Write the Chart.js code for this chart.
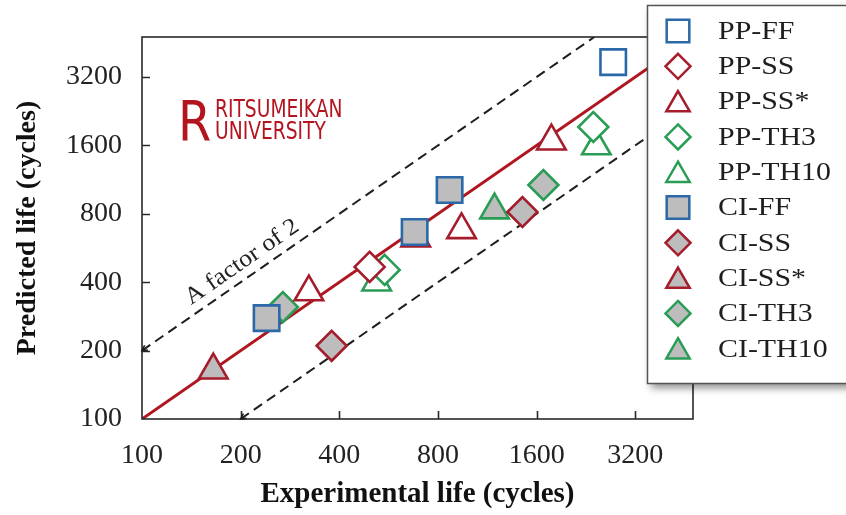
<!DOCTYPE html>
<html><head><meta charset="utf-8">
<script src="https://cdn.jsdelivr.net/npm/chart.js@4.4.0/dist/chart.umd.min.js"></script>
<style>html,body{margin:0;padding:0;background:#fff;overflow:hidden}#wrap{width:846px;height:515px;position:relative}</style>
</head><body><div id="wrap"><canvas id="c" width="846" height="515"></canvas></div>
<script>
// Axis ticks (both axes are log2-spaced)
const tickValues = [100, 200, 400, 800, 1600, 3200];
const axisMin = 100, axisMax = 4800;

// Experimental life (x) and predicted life (y) in cycles, per specimen group
const ppFF_exp = [2740],              ppFF_pred = [3720];
const ppSS_exp = [495],               ppSS_pred = [467];
const ppSSs_exp = [323, 944, 1775],   ppSSs_pred = [362, 680, 1670];
const ppTH3_exp = [550, 2383],        ppTH3_pred = [453, 1928];
const ppTH10_exp = [520, 2434],       ppTH10_pred = [400, 1590];
const ciFF_exp = [240, 679, 868],     ciFF_pred = [278, 665, 1018];
const ciSS_exp = [379, 1448],         ciSS_pred = [210, 815];
const ciSSs_exp = [165, 684],         ciSSs_pred = [164, 625];
const ciTH3_exp = [269, 1678],        ciTH3_pred = [311, 1071];
const ciTH10_exp = [1190],            ciTH10_pred = [830];

const BLUE = '#2b68a8', RED = '#a51d2d', GREEN = '#2a9d55', GRAY = '#bdbdbd';

function pts(xs, ys) { return xs.map((x, i) => ({ x: x, y: ys[i] })); }

const groups = [
  { label: 'PP-FF',   x: ppFF_exp,   y: ppFF_pred,   style: 'rect',     color: BLUE,  fill: '#ffffff' },
  { label: 'PP-SS',   x: ppSS_exp,   y: ppSS_pred,   style: 'rectRot',  color: RED,   fill: '#ffffff' },
  { label: 'PP-SS*',  x: ppSSs_exp,  y: ppSSs_pred,  style: 'triangle', color: RED,   fill: '#ffffff' },
  { label: 'PP-TH3',  x: ppTH3_exp,  y: ppTH3_pred,  style: 'rectRot',  color: GREEN, fill: '#ffffff' },
  { label: 'PP-TH10', x: ppTH10_exp, y: ppTH10_pred, style: 'triangle', color: GREEN, fill: '#ffffff' },
  { label: 'CI-FF',   x: ciFF_exp,   y: ciFF_pred,   style: 'rect',     color: BLUE,  fill: GRAY },
  { label: 'CI-SS',   x: ciSS_exp,   y: ciSS_pred,   style: 'rectRot',  color: RED,   fill: GRAY },
  { label: 'CI-SS*',  x: ciSSs_exp,  y: ciSSs_pred,  style: 'triangle', color: RED,   fill: GRAY },
  { label: 'CI-TH3',  x: ciTH3_exp,  y: ciTH3_pred,  style: 'rectRot',  color: GREEN, fill: GRAY },
  { label: 'CI-TH10', x: ciTH10_exp, y: ciTH10_pred, style: 'triangle', color: GREEN, fill: GRAY }
];
const radiusFor = { rect: 18, rectRot: 15, triangle: 16.5 };

const markerSets = groups.map(g => ({
  type: 'scatter',
  label: g.label,
  data: pts(g.x, g.y),
  pointStyle: g.style,
  pointRadius: radiusFor[g.style],
  pointHoverRadius: radiusFor[g.style],
  pointBorderWidth: 2.6,
  pointBorderColor: g.color,
  pointBackgroundColor: g.fill,
  borderColor: g.color,
  backgroundColor: g.fill,
  order: 1
}));

// 1:1 line and factor-of-2 bounds
const lineSets = [
  { type: 'line', label: 'equal', data: [{x: 100, y: 100}, {x: 4800, y: 4800}],
    borderColor: '#b0161f', borderWidth: 3, pointRadius: 0, order: 5 },
  { type: 'line', label: 'upper', data: [{x: 100, y: 200}, {x: 2400, y: 4800}],
    borderColor: '#1e1e1e', borderWidth: 2, borderDash: [10, 6], pointRadius: 0, order: 6 },
  { type: 'line', label: 'lower', data: [{x: 200, y: 100}, {x: 4800, y: 2400}],
    borderColor: '#1e1e1e', borderWidth: 2, borderDash: [10, 6], pointRadius: 0, order: 6 }
];

const SERIF = "'Liberation Serif', 'Times New Roman', serif";
const NARROW = "'Liberation Sans Narrow', 'DejaVu Sans Condensed', sans-serif";

function drawMarker(ctx, style, x, y, r, stroke, fill, lw) {
  ctx.save();
  ctx.beginPath();
  if (style === 'rect') {
    const s = Math.SQRT1_2 * r;
    ctx.rect(x - s, y - s, 2 * s, 2 * s);
  } else if (style === 'rectRot') {
    ctx.moveTo(x, y - r); ctx.lineTo(x + r, y); ctx.lineTo(x, y + r); ctx.lineTo(x - r, y); ctx.closePath();
  } else {
    const k = Math.sin(2 * Math.PI / 3);
    ctx.moveTo(x, y - r); ctx.lineTo(x + r * k, y + r / 2);
    ctx.lineTo(x - r * k, y + r / 2); ctx.closePath();
  }
  ctx.fillStyle = fill; ctx.fill();
  ctx.lineWidth = lw; ctx.strokeStyle = stroke; ctx.stroke();
  ctx.restore();
}

// text drawn a little wider than the regular face
function wideText(ctx, text, x, y, sx) {
  ctx.save();
  ctx.translate(x, y);
  ctx.scale(sx, 1);
  ctx.fillText(text, 0, 0);
  ctx.restore();
}

const framePlugin = {
  id: 'frame',
  beforeDatasetsDraw(chart) {
    const ctx = chart.ctx;
    const xs = chart.scales.x, ys = chart.scales.y;
    ctx.save();
    // annotation along the upper bound
    const p0x = xs.getPixelForValue(100), p0y = ys.getPixelForValue(200);
    const p1x = xs.getPixelForValue(400), p1y = ys.getPixelForValue(800);
    const ang = Math.atan2(p1y - p0y, p1x - p0x);
    ctx.translate(xs.getPixelForValue(202), ys.getPixelForValue(490));
    ctx.rotate(ang);
    ctx.font = '24px ' + SERIF;
    ctx.fillStyle = '#222';
    ctx.textAlign = 'center'; ctx.textBaseline = 'middle';
    ctx.scale(1.08, 1);
    ctx.fillText('A factor of 2', 0, 0);
    ctx.restore();

    // logo
    ctx.save();
    ctx.fillStyle = '#b3141e';
    ctx.textBaseline = 'alphabetic'; ctx.textAlign = 'left';
    ctx.font = '56px ' + NARROW;
    wideText(ctx, 'R', 178, 140, 0.95);
    ctx.font = '25px ' + NARROW;
    wideText(ctx, 'RITSUMEIKAN', 215, 117, 0.83);
    wideText(ctx, 'UNIVERSITY', 215, 139, 0.83);
    ctx.restore();
  },
  afterDraw(chart) {
    const ctx = chart.ctx, a = chart.chartArea;
    const xs = chart.scales.x, ys = chart.scales.y;
    ctx.save();
    ctx.strokeStyle = '#2a2a2a'; ctx.lineWidth = 1.6;
    ctx.strokeRect(a.left, a.top, a.right - a.left, a.bottom - a.top);
    ctx.beginPath();
    tickValues.forEach(v => {
      if (v === axisMin) return;
      const px = Math.round(xs.getPixelForValue(v)) + 0.5;
      ctx.moveTo(px, a.bottom); ctx.lineTo(px, a.bottom - 8);
      const py = Math.round(ys.getPixelForValue(v)) + 0.5;
      ctx.moveTo(a.left, py); ctx.lineTo(a.left + 8, py);
    });
    ctx.stroke();
    // small arrow heads at the start of the dashed bounds
    ctx.lineWidth = 1.6; ctx.strokeStyle = '#1e1e1e';
    [[100, 200, 400, 800], [200, 100, 800, 400]].forEach(s => {
      const x0 = xs.getPixelForValue(s[0]), y0 = ys.getPixelForValue(s[1]);
      const x1 = xs.getPixelForValue(s[2]), y1 = ys.getPixelForValue(s[3]);
      const t = Math.atan2(y1 - y0, x1 - x0);
      ctx.beginPath();
      ctx.moveTo(x0 + 6 * Math.cos(t + 0.5), y0 + 6 * Math.sin(t + 0.5));
      ctx.lineTo(x0, y0);
      ctx.lineTo(x0 + 6 * Math.cos(t - 0.5), y0 + 6 * Math.sin(t - 0.5));
      ctx.stroke();
    });
    ctx.restore();

    // legend box
    ctx.save();
    ctx.shadowColor = 'rgba(0,0,0,0.45)';
    ctx.shadowBlur = 8; ctx.shadowOffsetX = 4; ctx.shadowOffsetY = 5;
    ctx.fillStyle = '#fff';
    ctx.fillRect(647, 5, 220, 378);
    ctx.restore();
    ctx.save();
    ctx.strokeStyle = '#555'; ctx.lineWidth = 1.5;
    ctx.strokeRect(647.5, 5.5, 220, 378);
    ctx.font = '26px ' + SERIF;
    ctx.fillStyle = '#1e1e1e';
    ctx.textBaseline = 'middle'; ctx.textAlign = 'left';
    const legR = { rect: 16, rectRot: 12.5, triangle: 13.5 };
    groups.forEach((g, i) => {
      const y = 31 + i * 35.3;
      const my = g.style === 'triangle' ? y + 3 : y;
      drawMarker(ctx, g.style, 678, my, legR[g.style], g.color, g.fill, 2.5);
      wideText(ctx, g.label, 718, y + 1, 1.15);
    });
    ctx.restore();
  }
};

new Chart(document.getElementById('c'), {
  data: { datasets: lineSets.concat(markerSets) },
  options: {
    responsive: false,
    animation: false,
    devicePixelRatio: 1,
    layout: { padding: { left: 0, right: 153, top: 37, bottom: 0 } },
    plugins: { legend: { display: false }, tooltip: { enabled: false } },
    scales: {
      x: {
        type: 'logarithmic', min: axisMin, max: axisMax,
        afterBuildTicks: s => { s.ticks = tickValues.map(v => ({ value: v })); },
        afterFit: s => { s.height = 96; },
        grid: { display: false, drawTicks: false },
        border: { display: false },
        ticks: { callback: v => String(v), autoSkip: false, maxRotation: 0, padding: 20,
                 color: '#222', font: { family: SERIF, size: 28 } },
        title: { display: true, text: 'Experimental life (cycles)', color: '#111',
                 font: { family: SERIF, size: 29, weight: 'bold' }, padding: { top: 0, bottom: 3 } }
      },
      y: {
        type: 'logarithmic', min: axisMin, max: axisMax,
        afterBuildTicks: s => { s.ticks = tickValues.map(v => ({ value: v })); },
        afterFit: s => { s.width = 142; },
        grid: { display: false, drawTicks: false },
        border: { display: false },
        ticks: { callback: v => String(v), autoSkip: false, padding: 20,
                 color: '#222', font: { family: SERIF, size: 28 } },
        title: { display: true, text: 'Predicted life (cycles)', color: '#111',
                 font: { family: SERIF, size: 28, weight: 'bold' }, padding: { top: 11, bottom: 0 } }
      }
    }
  },
  plugins: [framePlugin]
});
</script>
</body></html>
